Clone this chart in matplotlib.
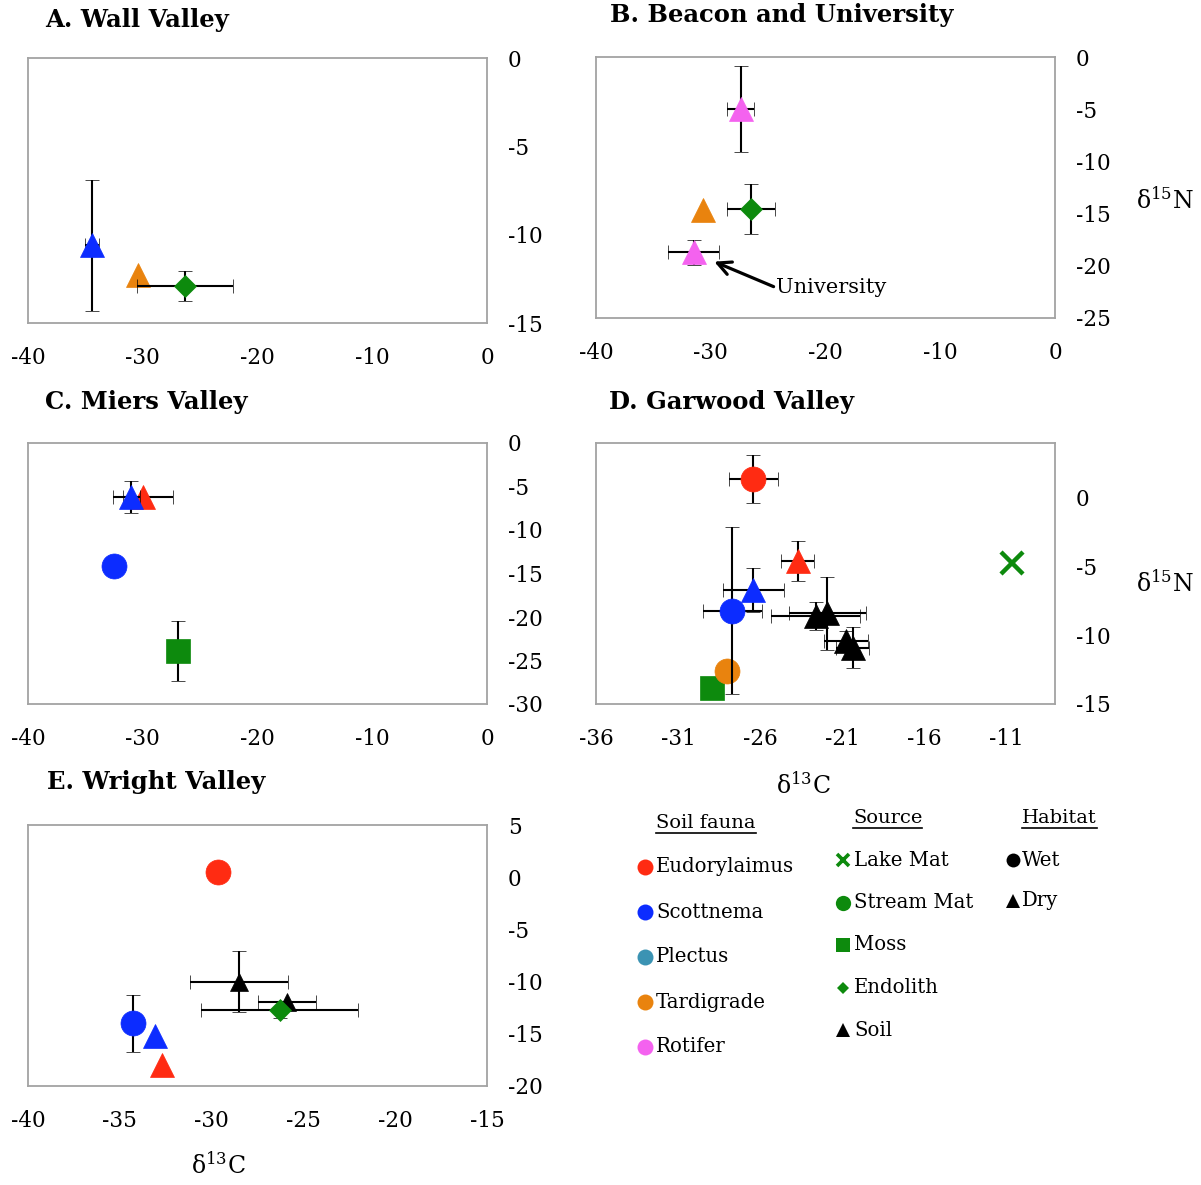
import matplotlib
matplotlib.use("Agg")
import matplotlib.pyplot as plt
import numpy as np

plt.rcParams["font.family"] = ["DejaVu Serif"]
plt.rcParams["mathtext.fontset"] = "dejavuserif"
plt.rcParams["axes.unicode_minus"] = False

W, H = 1201, 1185

# --- A. Wall Valley ---
wall_group = ["Scottnema", "Tardigrade", "Endolith"]
wall_habitat = ["Dry", "Dry", None]
wall_d13c = [-34.4, -30.4, -26.3]
wall_d15n = [-10.6, -12.3, -12.9]
wall_d13c_err = [0.6, 0, 4.2]
wall_d15n_err = [3.7, 0, 0.85]

# --- B. Beacon and University (last rotifer = University) ---
beacon_group = ["Rotifer", "Tardigrade", "Endolith", "Rotifer"]
beacon_habitat = ["Dry", "Dry", None, "Dry"]
beacon_d13c = [-27.4, -30.7, -26.5, -31.5]
beacon_d15n = [-5.0, -14.7, -14.6, -18.7]
beacon_d13c_err = [1.2, 0, 2.1, 2.2]
beacon_d15n_err = [4.1, 0, 2.4, 1.2]

# --- C. Miers Valley ---
miers_group = ["Eudorylaimus", "Scottnema", "Scottnema", "Moss"]
miers_habitat = ["Dry", "Dry", "Wet", None]
miers_d13c = [-30.0, -31.0, -32.5, -26.9]
miers_d15n = [-6.2, -6.2, -14.1, -23.9]
miers_d13c_err = [2.6, 0.75, 0, 0]
miers_d15n_err = [0, 1.85, 0, 3.4]

# --- D. Garwood Valley ---
garwood_group = ["Soil", "Soil", "Soil", "Soil", "Lake Mat", "Moss",
                 "Tardigrade", "Scottnema", "Scottnema", "Eudorylaimus",
                 "Eudorylaimus"]
garwood_habitat = [None, None, None, None, None, None,
                   "Wet", "Wet", "Dry", "Dry", "Wet"]
garwood_d13c = [-22.6, -21.9, -20.75, -20.35, -10.6, -28.9,
                -28.0, -27.7, -26.4, -23.7, -26.4]
garwood_d15n = [-8.6, -8.4, -10.45, -10.9, -4.7, -13.8,
                -12.6, -8.2, -6.7, -4.6, 1.4]
garwood_d13c_err = [2.7, 2.35, 1.35, 1.0, 0, 0, 0, 1.8, 1.85, 1.0, 1.5]
garwood_d15n_err = [1.0, 2.65, 0.8, 1.5, 0, 0, 0, 6.1, 1.6, 1.45, 1.75]

# --- E. Wright Valley ---
wright_group = ["Eudorylaimus", "Scottnema", "Scottnema", "Eudorylaimus",
                "Soil", "Soil", "Endolith"]
wright_habitat = ["Wet", "Wet", "Dry", "Dry", None, None, None]
wright_d13c = [-29.65, -34.3, -33.1, -32.7, -28.5, -25.9, -26.3]
wright_d15n = [0.5, -14.0, -15.2, -18.0, -10.0, -11.95, -12.7]
wright_d13c_err = [0, 0, 0, 0, 2.65, 1.6, 4.3]
wright_d15n_err = [0, 2.7, 0, 0, 2.9, 0, 0.8]

# legend categories
fauna = ["Eudorylaimus", "Scottnema", "Plectus", "Tardigrade", "Rotifer"]
sources = ["Lake Mat", "Stream Mat", "Moss", "Endolith", "Soil"]
habitats = ["Wet", "Dry"]

FAUNA_COLORS = {
    "Eudorylaimus": "#ff2b12",
    "Scottnema": "#0c2cff",
    "Plectus": "#3b93b3",
    "Tardigrade": "#e9830e",
    "Rotifer": "#f462ef",
}
GREEN = "#0d8a0d"
SOURCE_MARKERS = {"Lake Mat": "x", "Stream Mat": "o", "Moss": "s",
                  "Endolith": "D", "Soil": "^"}
HABITAT_MARKERS = {"Wet": "o", "Dry": "^"}
MARKER_SIZE = {"o": 18, "^": 17.5, "s": 17.5, "D": 11, "x": 16}


def px_rect(left, top, right, bottom):
    return [left / W, 1 - bottom / H, (right - left) / W, (bottom - top) / H]


def style_for(group, habitat):
    if group in FAUNA_COLORS:
        return HABITAT_MARKERS[habitat], FAUNA_COLORS[group]
    return SOURCE_MARKERS[group], ("black" if group == "Soil" else GREEN)


def draw_points(ax, group, habitat, xs, ys, xerr, yerr, soil_ms=None):
    for i, (g, h, x, y, ex, ey) in enumerate(zip(group, habitat, xs, ys, xerr, yerr)):
        marker, color = style_for(g, h)
        ms = MARKER_SIZE[marker]
        if g == "Soil" and soil_ms:
            ms = soil_ms
        ax.errorbar(x, y, xerr=ex or None, yerr=ey or None, fmt=marker,
                    ms=ms, mfc=color, mec=color,
                    mew=3.2 if marker == "x" else 0.5,
                    ecolor="black", elinewidth=1.5, capsize=4.7,
                    capthick=1.5, zorder=3 + i)


def setup_axes(ax, xlim, xstep, ylim, ystep, xticks_stop=None):
    ax.set_xlim(xlim)
    ax.set_ylim(ylim)
    stop = xticks_stop if xticks_stop is not None else xlim[1]
    ax.set_xticks(np.arange(xlim[0], stop + 0.1, xstep))
    ax.set_yticks(np.arange(ylim[0], ylim[1] + 0.1, ystep) if ylim[1] % ystep == 0
                  else np.arange(ylim[0], 0.1, ystep))
    ax.yaxis.tick_right()
    ax.tick_params(axis="both", length=0, labelsize=15.5)
    ax.tick_params(axis="x", pad=17)
    ax.tick_params(axis="y", pad=15)
    for lbl in ax.get_yticklabels():
        lbl.set_va("center_baseline")
    for s in ax.spines.values():
        s.set_color("#a3a3a3")
        s.set_linewidth(1.3)


def main():
    fig = plt.figure(figsize=(W / 100, H / 100), dpi=100)

    title_kw = dict(fontsize=17.5, fontweight="bold", va="center", ha="left")
    delta_kw = dict(fontsize=17, va="center", ha="center")

    # A
    ax = fig.add_axes(px_rect(28, 58, 487, 323))
    setup_axes(ax, (-40, 0), 10, (-15, 0), 5)
    draw_points(ax, wall_group, wall_habitat, wall_d13c, wall_d15n,
                wall_d13c_err, wall_d15n_err)
    fig.text(45 / W, 1 - 20 / H, "A. Wall Valley", **title_kw)

    # B
    ax = fig.add_axes(px_rect(596, 57, 1055, 318))
    setup_axes(ax, (-40, 0), 10, (-25, 0), 5)
    draw_points(ax, beacon_group, beacon_habitat, beacon_d13c, beacon_d15n,
                beacon_d13c_err, beacon_d15n_err)
    ax.annotate("University", xy=(-29.7, -19.6), xytext=(-24.3, -22.1),
                fontsize=15, va="center", ha="left",
                arrowprops=dict(arrowstyle="->", lw=2.3, color="black",
                                mutation_scale=24, shrinkA=2, shrinkB=0,
                                relpos=(0.0, 0.5), patchA=None),
                zorder=10)
    fig.text(610 / W, 1 - 15 / H, "B. Beacon and University", **title_kw)
    fig.text(1165 / W, 1 - 200 / H, "δ$^{15}$N", **delta_kw)

    # C
    ax = fig.add_axes(px_rect(28, 443, 487, 704))
    setup_axes(ax, (-40, 0), 10, (-30, 0), 5)
    draw_points(ax, miers_group, miers_habitat, miers_d13c, miers_d15n,
                miers_d13c_err, miers_d15n_err)
    fig.text(45 / W, 1 - 402 / H, "C. Miers Valley", **title_kw)

    # D
    ax = fig.add_axes(px_rect(596, 443, 1055, 704))
    setup_axes(ax, (-36, -8), 5, (-15, 4), 5, xticks_stop=-11)
    draw_points(ax, garwood_group, garwood_habitat, garwood_d13c, garwood_d15n,
                garwood_d13c_err, garwood_d15n_err)
    fig.text(609 / W, 1 - 402 / H, "D. Garwood Valley", **title_kw)
    fig.text(1165 / W, 1 - 583 / H, "δ$^{15}$N", **delta_kw)
    fig.text(803 / W, 1 - 785 / H, "δ$^{13}$C", **delta_kw)

    # E
    ax = fig.add_axes(px_rect(28, 825, 487, 1086))
    setup_axes(ax, (-40, -15), 5, (-20, 5), 5)
    draw_points(ax, wright_group, wright_habitat, wright_d13c, wright_d15n,
                wright_d13c_err, wright_d15n_err, soil_ms=13)
    fig.text(47 / W, 1 - 782 / H, "E. Wright Valley", **title_kw)
    fig.text(218 / W, 1 - 1165 / H, "δ$^{13}$C", **delta_kw)

    # legend block, laid out in pixel units
    lg = fig.add_axes([0, 0, 1, 1], zorder=-1)
    lg.set_xlim(0, W)
    lg.set_ylim(H, 0)
    lg.axis("off")

    headers = [("Soil fauna", 656, 823), ("Source", 853, 818), ("Habitat", 1022, 818)]
    head_texts = []
    for label, x, y in headers:
        head_texts.append(lg.text(x, y, label, fontsize=14, va="center", ha="left"))

    item_kw = dict(fontsize=14.2, va="center", ha="left")
    for i, name in enumerate(fauna):
        y = 867 + i * 45
        lg.plot(645, y, "o", ms=11.5, color=FAUNA_COLORS[name], mew=0)
        lg.text(656, y, name, **item_kw)
    for i, name in enumerate(sources):
        y = 860 + i * 42.5
        marker, color = style_for(name, None)
        ms = {"x": 9, "o": 11, "s": 10, "D": 6.5, "^": 10}[marker]
        lg.plot(843, y, marker, ms=ms, color=color, mec=color,
                mew=2.6 if marker == "x" else 0)
        lg.text(854, y, name, **item_kw)
    for i, name in enumerate(habitats):
        y = 860 + i * 41
        lg.plot(1013, y, HABITAT_MARKERS[name], ms=10, color="black", mew=0)
        lg.text(1022, y, name, **item_kw)

    # underline the legend headers
    fig.canvas.draw()
    renderer = fig.canvas.get_renderer()
    inv = lg.transData.inverted()
    for t in head_texts:
        bb = t.get_window_extent(renderer)
        (x0, y0), (x1, _) = inv.transform([(bb.x0, bb.y0), (bb.x1, bb.y1)])
        lg.plot([x0, x1], [y0 + 1, y0 + 1], color="black", lw=1.2)

    fig.savefig("out.png", dpi=100, facecolor="white")


if __name__ == "__main__":
    main()
